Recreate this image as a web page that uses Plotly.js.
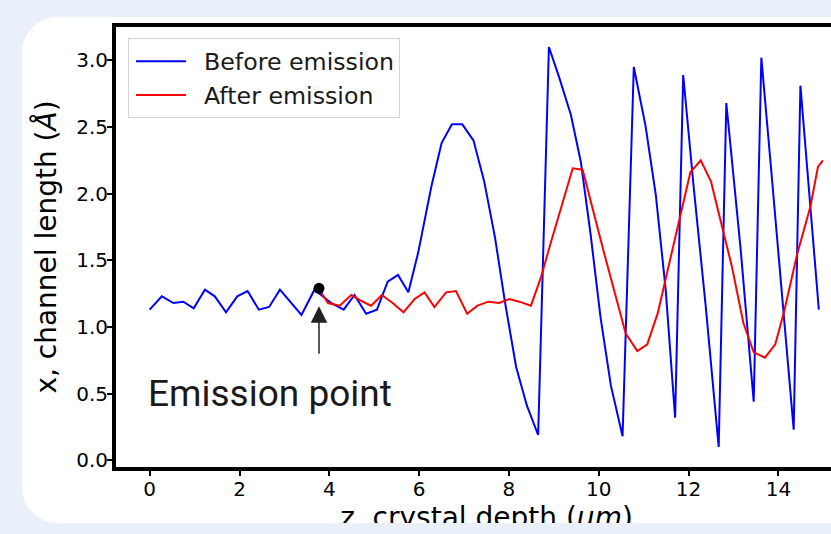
<!DOCTYPE html>
<html>
<head>
<meta charset="utf-8">
<script src="https://cdn.plot.ly/plotly-3.0.1.min.js"></script>
<style>
html,body{margin:0;padding:0;width:831px;height:534px;overflow:hidden;background:#e9f0fa;}
#card{position:absolute;left:22px;top:17px;width:880px;height:506px;background:#ffffff;border-radius:36px;overflow:hidden;}
#plot{position:absolute;left:-22px;top:-17px;width:900px;height:560px;}
</style>
</head>
<body>
<div id="card"><div id="plot"></div></div>
<script>
// crystal depth z (um) and channel length x (Angstrom)
const blueZ = [0.00,0.27,0.53,0.75,0.98,1.23,1.45,1.70,1.95,2.18,2.43,2.66,2.90,3.13,3.38,3.67,4.04,4.32,4.56,4.82,5.06,5.30,5.53,5.76,5.98,6.27,6.50,6.73,6.96,7.21,7.45,7.69,7.91,8.16,8.40,8.65,8.89,9.12,9.38,9.60,9.82,10.04,10.27,10.53,10.78,11.04,11.27,11.49,11.70,11.88,12.11,12.38,12.67,12.84,13.16,13.45,13.62,13.87,14.11,14.34,14.49,14.90];
const blueX = [1.13,1.23,1.18,1.19,1.14,1.28,1.23,1.11,1.23,1.27,1.13,1.15,1.28,1.19,1.09,1.28,1.18,1.13,1.24,1.10,1.13,1.34,1.39,1.26,1.56,2.05,2.38,2.52,2.52,2.40,2.09,1.67,1.19,0.70,0.41,0.19,3.10,2.87,2.59,2.24,1.69,1.07,0.56,0.18,2.95,2.51,1.99,1.28,0.32,2.89,2.06,1.16,0.10,2.68,1.58,0.44,3.02,2.06,1.12,0.23,2.81,1.13];
const redZ = [3.78,3.97,4.23,4.49,4.69,4.93,5.17,5.41,5.65,5.90,6.12,6.34,6.60,6.82,7.07,7.30,7.54,7.78,8.01,8.23,8.49,8.71,8.93,9.18,9.42,9.64,9.89,10.13,10.37,10.60,10.86,11.08,11.31,11.60,11.82,12.04,12.27,12.50,12.71,12.96,13.22,13.45,13.70,13.93,14.13,14.42,14.71,14.88,14.99];
const redX = [1.28,1.18,1.16,1.24,1.20,1.16,1.24,1.18,1.11,1.21,1.26,1.15,1.26,1.27,1.10,1.16,1.19,1.18,1.21,1.19,1.16,1.37,1.63,1.91,2.19,2.18,1.85,1.54,1.24,0.95,0.82,0.87,1.10,1.52,1.84,2.16,2.25,2.09,1.80,1.46,1.03,0.81,0.77,0.87,1.12,1.55,1.90,2.20,2.25];
const emissionZ = 3.77;
const emissionX = 1.29;
const seriesNames = ['Before emission','After emission'];
const xTicks = [0,2,4,6,8,10,12,14];
const yTicks = [0,0.5,1.0,1.5,2.0,2.5,3.0];
const yTickText = ['0.0','0.5','1.0','1.5','2.0','2.5','3.0'];

const traces = [
  {x: blueZ, y: blueX, type:'scatter', mode:'lines', name: seriesNames[0], line:{color:'#0000ff', width:2}},
  {x: redZ, y: redX, type:'scatter', mode:'lines', name: seriesNames[1], line:{color:'#ff0000', width:2}},
  {x: [emissionZ], y: [emissionX], type:'scatter', mode:'markers', showlegend:false, marker:{color:'#000000', size:11}}
];

const tickFont = {family:'DejaVu Sans', size:20, color:'#000000'};
const titleFont = {family:'DejaVu Sans', size:28, color:'#000000'};

const layout = {
  width: 900, height: 560,
  margin: {l:116, r:43.25, t:26.8, b:93.3, pad:0},
  paper_bgcolor:'#ffffff', plot_bgcolor:'#ffffff',
  showlegend:true,
  legend:{x:0.0162, y:0.9745, xanchor:'left', yanchor:'top', itemwidth:65, bgcolor:'rgba(255,255,255,0.85)', bordercolor:'#d4d4d4', borderwidth:1, font:{family:'DejaVu Sans', size:23.7, color:'#1a1a1a'}},
  xaxis:{range:[-0.75,15.75], tickvals:xTicks, ticks:'outside', ticklen:5, tickwidth:2, tickcolor:'#000', ticklabelstandoff:-4, showline:true, linewidth:4, linecolor:'#000', mirror:true, showgrid:false, zeroline:false, tickfont:tickFont,
    title:{text:'z, crystal depth (<i>μm</i>)', font:titleFont, standoff:8}},
  yaxis:{range:[-0.05,3.25], tickvals:yTicks, ticktext:yTickText, ticks:'outside', ticklen:5, tickwidth:2, tickcolor:'#000', ticklabelstandoff:-5, showline:true, linewidth:4, linecolor:'#000', mirror:true, showgrid:false, zeroline:false, tickfont:tickFont,
    title:{text:'x, channel length (<i>Å</i>)', font:titleFont, standoff:12}},
  annotations:[
    {x:emissionZ, y:emissionX, xref:'x', yref:'y', text:'', showarrow:true, ax:0, ay:67, standoff:18, arrowhead:2, arrowsize:2.2, arrowwidth:1.5, arrowcolor:'#222222'},
    {x:2.67, y:0.50, xref:'x', yref:'y', text:'Emission point', showarrow:false, font:{family:'Roboto', size:37, color:'#1a1a1a'}, xanchor:'center', yanchor:'middle'}
  ]
};

Plotly.newPlot('plot', traces, layout, {displayModeBar:false, staticPlot:true}).then(function(){
  // matplotlib-style legend handle: shorter sample line with a gap before the label
  document.querySelectorAll('.legend .legendlines path').forEach(function(p){ p.setAttribute('d','M7,0h50'); });
});
</script>
</body>
</html>
